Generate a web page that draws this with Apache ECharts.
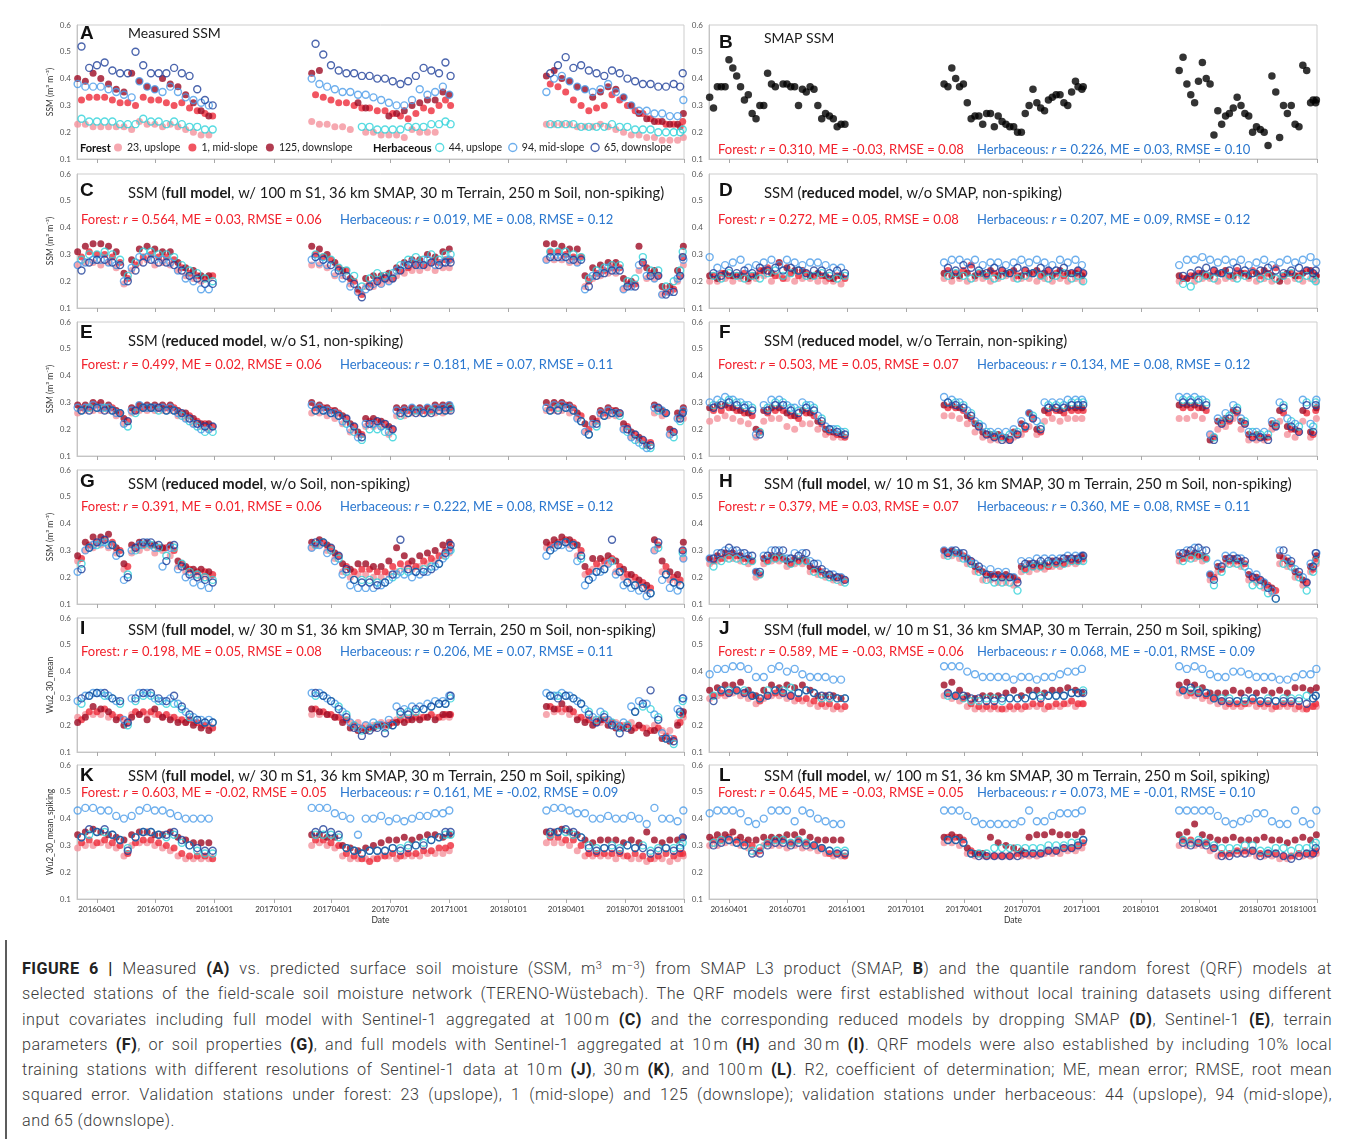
<!DOCTYPE html>
<html>
<head>
<meta charset="utf-8">
<script src="https://cdn.jsdelivr.net/npm/echarts@6/dist/echarts.min.js"></script>
<style>
html,body{margin:0;padding:0;background:#fff;width:1355px;height:1139px;overflow:hidden}
#frameTop{position:absolute;left:5px;top:7px;width:1350px;height:2px;background:#5c5c5c}
#frameLeft{position:absolute;left:5px;top:7px;width:2px;height:1132px;background:#5c5c5c}
#chart{position:absolute;left:0;top:0;width:1355px;height:940px}
#caption{position:absolute;left:22px;top:956px;width:1310px;font-family:Roboto,"Liberation Sans",sans-serif;font-weight:300;font-size:16.2px;letter-spacing:0.45px;line-height:25.3px;color:#3a3a3a}
#caption .ln{text-align:justify;text-align-last:justify;white-space:nowrap}
#caption .last{text-align:left;text-align-last:left}
#caption b{font-weight:700;color:#222}
#caption sup{font-size:0.68em;line-height:0;vertical-align:0.5em}
</style>
</head>
<body>
<div id="frameTop"></div>
<div id="frameLeft"></div>
<div id="chart"></div>
<div id="caption">
<div class="ln"><b>FIGURE 6 |</b> Measured <b>(A)</b> vs. predicted surface soil moisture (SSM, m<sup>3</sup> m<sup>−3</sup>) from SMAP L3 product (SMAP, <b>B</b>) and the quantile random forest (QRF) models at</div>
<div class="ln">selected stations of the field-scale soil moisture network (TERENO-Wüstebach). The QRF models were first established without local training datasets using different</div>
<div class="ln">input covariates including full model with Sentinel-1 aggregated at 100&#8239;m <b>(C)</b> and the corresponding reduced models by dropping SMAP <b>(D)</b>, Sentinel-1 <b>(E)</b>, terrain</div>
<div class="ln">parameters <b>(F)</b>, or soil properties <b>(G)</b>, and full models with Sentinel-1 aggregated at 10&#8239;m <b>(H)</b> and 30&#8239;m <b>(I)</b>. QRF models were also established by including 10% local</div>
<div class="ln">training stations with different resolutions of Sentinel-1 data at 10&#8239;m <b>(J)</b>, 30&#8239;m <b>(K)</b>, and 100&#8239;m <b>(L)</b>. R2, coefficient of determination; ME, mean error; RMSE, root mean</div>
<div class="ln">squared error. Validation stations under forest: 23 (upslope), 1 (mid-slope) and 125 (downslope); validation stations under herbaceous: 44 (upslope), 94 (mid-slope),</div>
<div class="ln last">and 65 (downslope).</div>
</div>
<script>
// ---------------- sampling dates (MM-DD per season) ----------------
const DATES_A16 = ['03-02','03-14','03-26','04-07','04-19','05-01','05-13','05-25','06-06','06-18','06-30','07-12','07-24','08-05','08-17','08-29','09-10','09-22'];
const DATES_B16 = ['03-08','03-20','04-01','04-13','04-25','05-07','05-19','05-31','06-12','06-24','07-06','07-18','07-30','08-11','08-23','09-04','09-16','09-28'];
const DATES_A17 = ['03-01','03-13','03-25','04-06','04-18','04-30','05-12','05-24','06-05','06-17','06-29','07-11','07-23','08-04','08-16','08-28','09-09','09-21','10-01'];
const DATES_B17 = ['03-07','03-19','03-31','04-12','04-24','05-06','05-18','05-30','06-11','06-23','07-05','07-17','07-29','08-10','08-22','09-03','09-15','09-25','10-03'];
const DATES_A18 = ['03-01','03-13','03-25','04-06','04-18','04-30','05-12','05-24','06-05','06-17','06-29','07-11','07-23','08-04','08-16','08-28','09-09','09-21','09-30'];
const DATES_B18 = ['03-07','03-19','03-31','04-12','04-24','05-06','05-18','05-30','06-11','06-23','07-05','07-17','07-29','08-10','08-22','09-03','09-15','09-25','09-29'];
const SEASON_YEARS = [2016, 2017, 2018];
const TICK_DATES = ['2016-04-01','2016-07-01','2016-10-01','2017-01-01','2017-04-01','2017-07-01','2017-10-01','2018-01-01','2018-04-01','2018-07-01','2018-10-01'];
const Y_TICKS = [10, 20, 30, 40, 50, 60]; // SSM x 100

// ---------------- values: SSM in hundredths (m3 m-3 x 100), [2016],[2017],[2018] ----------------
// A: measured
const A_F23 = [[23,23,22,22,22,22,22,21,24,23,23,22,23,22,21,20,19,19],[24,23,23,22,22,21,null,20,20,19,19,19,18,21,20,20,20,null,null],[23,23,23,23,22,22,22,23,22,21,20,19,19,18,18,17,17,17,18]];
const A_F1 = [[32,33,33,33,32,31,31,30,33,32,32,31,30,31,29,28,27,26],[34,33,32,31,31,30,29,29,28,28,27,26,25,27,29,28,30,32,30],[38,37,35,32,30,28,29,30,34,32,30,28,27,25,24,23,23,22,24]];
const A_F125 = [[40,39,42,40,38,36,35,42,39,37,36,40,38,37,34,31,28,26],[42,43,null,null,null,null,31,29,null,null,26,27,28,30,31,32,32,35,34],[41,43,40,39,37,36,33,35,37,36,33,30,27,25,24,24,23,23,27]];
const A_H44 = [[25,24,24,24,24,23,23,23,25,24,24,23,24,23,22,22,21,21],[null,null,null,null,null,null,22,22,21,21,21,21,22,22,22,23,23,24,23],[23,23,23,23,22,22,22,22,23,22,22,21,21,21,20,20,20,20,21]];
const A_H94 = [[38,37,37,37,36,35,34,33,39,37,36,35,37,35,33,32,31,30],[40,38,37,36,35,35,34,34,33,32,31,30,30,32,36,34,35,37,34],[35,40,41,39,37,36,35,36,38,35,33,30,28,28,27,27,26,26,32]];
const A_H65 = [[52,44,45,46,43,42,42,50,45,42,42,42,44,42,41,36,32,30],[53,49,45,43,42,42,41,41,40,40,39,38,39,41,44,43,42,46,41],[42,45,48,44,45,43,42,41,43,42,40,39,38,38,37,37,38,37,42]];
// B: SMAP (two sampling grids)
const SMAP_A = [[33,37,37,44,37,34,25,30,38,null,38,37,36,37,30,27,25,23],[38,44,37,31,26,23,27,26,23,22,20,30,31,28,33,34,30,39,36],[43,38,31,46,38,28,26,29,30,26,22,20,41,18,27,23,45,31,32]];
const SMAP_B = [[29,37,47,41,32,27,30,42,37,38,37,30,35,36,25,26,22,23],[37,40,38,25,26,27,22,24,22,20,27,36,29,32,34,31,35,37,37],[48,34,39,40,19,23,27,33,27,20,21,15,35,30,30,22,43,32,31]];
// C
const C_F23 = [[26,27,27,26,27,25,19,24,27,28,26,27,26,24,22,21,20,21],[26,26,25,22,22,19,16,18,18,19,20,22,23,24,24,25,24,25,25],[28,28,28,27,27,18,21,22,23,23,17,18,24,21,21,15,16,20,26]];
const C_F1 = [[29,31,30,30,29,27,21,26,29,30,29,29,28,25,23,22,21,22],[30,29,28,25,24,20,15,19,20,21,21,24,25,26,26,27,27,28,28],[31,31,30,29,29,20,23,24,25,25,19,19,27,23,22,16,17,22,29]];
const C_F125 = [[31,33,34,34,33,31,23,28,32,33,32,31,31,27,25,24,22,22],[33,32,30,27,24,21,17,21,22,22,23,25,27,28,28,30,29,31,32],[34,34,33,32,32,22,25,26,27,27,21,20,33,25,24,18,18,24,33]];
const C_H44 = [[28,30,30,31,30,28,22,27,31,31,30,30,29,26,24,23,21,20],[30,29,28,25,24,22,18,21,23,22,23,26,28,29,28,30,28,30,30],[31,31,31,30,29,21,24,25,26,26,20,21,29,24,24,18,20,24,31]];
const C_H94 = [[26,27,28,28,27,26,20,25,29,29,28,28,27,24,21,20,17,17],[28,27,26,23,21,18,16,17,19,19,20,24,26,27,26,28,26,27,28],[28,29,29,28,27,17,22,23,25,24,17,18,26,22,21,15,16,21,28]];
const C_H65 = [[24,27,28,28,27,26,20,24,27,28,27,27,26,24,22,21,19,19],[29,28,26,24,22,19,14,18,20,21,21,24,26,26,26,27,26,27,27],[29,29,29,28,28,18,22,23,24,24,18,18,27,22,22,15,16,22,29]];
// D
const D_F23 = [[20,20,21,20,21,20,21,22,20,22,21,20,21,21,20,20,20,19],[21,20,21,20,21,21,20,21,22,21,21,21,20,21,20,21,20,21,20],[20,21,20,21,21,20,21,21,22,21,20,21,20,21,20,21,20,21,20]];
const D_F1 = [[22,23,22,22,23,22,24,25,22,21,23,22,23,22,22,21,22,21],[24,23,24,26,23,22,23,24,23,22,24,23,22,24,23,22,23,24,23],[21,22,23,22,24,23,22,24,23,24,22,23,25,22,23,22,24,23,22]];
const D_F125 = [[22,21,23,22,22,21,22,24,23,27,25,24,24,22,23,22,21,22],[23,22,22,23,22,23,24,22,23,24,22,23,24,23,22,24,23,23,22],[22,21,22,23,22,23,24,22,23,22,23,24,22,20,23,22,23,24,22]];
const D_H44 = [[22,21,23,22,21,22,21,23,24,22,23,24,22,22,23,22,21,22],[22,23,22,21,23,22,21,22,23,21,22,23,22,21,22,23,21,22,20],[19,18,21,22,21,23,22,21,22,23,21,22,21,22,23,21,22,21,20]];
const D_H94 = [[29,25,26,27,28,25,26,27,28,26,28,27,26,27,27,26,25,25],[27,28,28,27,28,26,27,27,26,27,28,27,28,27,26,28,27,28,26],[26,28,28,29,28,27,28,27,28,26,27,28,26,27,28,27,28,29,27]];
const D_H65 = [[23,22,24,23,24,23,25,24,25,24,25,24,23,24,24,23,24,23],[25,24,26,25,24,23,25,24,23,25,24,23,25,24,24,25,23,24,23],[22,23,24,25,24,23,24,25,24,23,24,25,24,23,24,25,24,23,24]];
// E
const E_F23 = [[26,27,27,27,27,25,22,26,27,27,27,27,27,25,24,22,21,20],[26,26,25,24,22,19,18,21,21,21,18,25,25,26,26,26,26,26,27],[27,27,27,26,24,19,22,25,25,25,20,17,16,15,26,25,18,24,24]];
const E_F1 = [[28,28,29,28,28,26,23,27,28,28,28,28,28,26,25,23,22,21],[28,28,27,26,24,21,18,23,23,22,20,27,27,27,27,27,28,28,28],[28,29,29,28,25,20,23,26,27,26,21,18,16,15,28,26,19,25,26]];
const E_F125 = [[29,29,30,30,29,27,24,28,29,29,29,29,29,27,26,24,22,22],[30,29,28,27,25,22,19,24,24,23,21,28,28,28,28,28,29,29,29],[30,30,30,29,26,22,24,27,28,27,22,19,17,14,29,27,20,26,28]];
const E_H44 = [[27,28,28,28,27,26,21,26,28,28,27,27,27,25,23,21,19,19],[27,27,26,25,22,19,16,20,20,19,17,25,26,27,26,27,27,27,28],[27,28,28,27,23,18,21,25,26,25,19,16,14,13,27,26,17,23,26]];
const E_H94 = [[28,28,29,28,28,26,22,27,29,28,28,28,28,26,24,22,20,20],[29,28,27,26,23,20,17,22,22,21,19,27,27,28,27,28,28,28,29],[28,29,29,28,24,19,22,26,27,26,20,17,15,13,28,27,18,24,27]];
const E_H65 = [[27,27,28,27,27,26,23,27,28,28,28,27,27,26,24,22,21,21],[27,27,26,25,24,21,17,22,23,22,20,26,26,26,26,26,27,27,27],[27,27,28,27,23,18,22,25,26,26,20,18,16,14,28,26,19,24,26]];
// F
const F_F23 = [[23,24,25,24,23,22,17,23,24,24,21,20,22,22,20,18,17,17],[25,25,24,22,19,17,16,16,16,17,18,21,18,23,24,23,24,24,24],[24,24,25,24,18,20,21,24,20,16,16,16,20,23,18,17,23,17,24]];
const F_F1 = [[27,27,28,27,26,25,19,26,27,27,25,24,26,25,22,19,18,17],[28,28,27,24,21,18,17,17,16,18,20,24,19,26,27,26,27,27,27],[28,28,28,27,17,22,23,26,22,17,17,17,21,26,20,19,26,18,27]];
const F_F125 = [[28,29,29,28,27,26,20,27,28,28,26,25,27,26,23,20,19,18],[29,29,28,25,22,19,18,18,17,19,22,26,20,27,28,27,28,28,28],[29,29,29,28,16,23,24,27,23,18,18,17,22,27,21,20,27,19,28]];
const F_H44 = [[29,30,31,30,29,28,19,28,30,30,28,27,29,28,24,20,20,19],[30,30,29,26,22,19,18,17,18,19,21,25,21,29,29,29,30,30,30],[31,31,31,30,17,23,25,28,23,19,18,18,22,29,23,21,30,21,30]];
const F_H94 = [[30,31,32,31,30,29,18,29,31,31,29,28,30,29,25,21,20,19],[32,31,30,27,23,21,19,19,19,20,23,26,23,30,30,30,31,31,31],[32,32,32,31,18,24,26,29,24,19,19,19,23,30,24,22,31,22,31]];
const F_H65 = [[28,29,30,29,28,27,18,27,29,29,27,26,28,27,23,20,19,18],[30,29,28,25,21,18,17,16,16,18,21,24,20,28,28,28,29,29,29],[30,30,30,29,16,22,24,27,22,17,17,16,21,28,21,19,29,19,29]];
// G
const G_F23 = [[26,30,31,32,31,29,23,29,30,31,29,30,28,24,22,21,20,20],[31,32,30,27,22,20,21,21,20,20,21,22,23,23,24,25,26,28,29],[31,32,33,32,28,21,23,24,25,22,20,19,17,15,30,22,19,18,27]];
const G_F1 = [[27,32,33,34,33,30,24,31,32,32,31,31,30,25,23,22,22,21],[32,33,31,28,24,22,23,23,22,22,24,25,25,24,26,27,28,30,31],[32,33,34,33,30,22,25,26,27,24,21,20,18,16,32,24,20,19,30]];
const G_F125 = [[28,33,35,35,36,31,25,32,33,33,32,31,32,26,24,23,23,22],[33,34,32,29,25,23,25,25,24,24,26,31,28,26,28,29,30,32,33],[33,34,35,34,32,24,27,27,28,26,23,21,19,17,34,26,22,21,33]];
const G_H44 = [[25,31,32,33,32,29,21,30,32,32,31,28,31,25,22,21,20,19],[32,33,30,27,22,19,19,19,18,18,20,22,22,22,23,24,25,28,30],[30,32,33,32,27,19,22,23,26,22,18,17,16,14,31,21,18,17,29]];
const G_H94 = [[22,30,32,33,32,28,19,30,32,33,31,24,31,23,20,18,17,16],[31,32,29,26,21,17,16,16,16,17,19,21,21,20,21,22,24,27,30],[28,31,32,31,26,17,20,22,25,21,17,16,15,13,30,19,16,15,27]];
const G_H65 = [[23,31,33,34,32,29,20,31,33,33,32,26,32,24,21,20,19,18],[33,33,31,28,23,19,18,18,17,18,21,34,23,22,22,23,25,29,32],[30,32,33,32,28,19,22,23,34,22,18,17,16,14,33,21,18,17,30]];
// H
const H_F23 = [[25,26,27,27,26,25,20,25,26,26,24,25,25,22,21,20,19,18],[28,28,27,25,22,19,19,18,18,17,22,22,23,23,24,24,25,25,26],[26,27,27,26,19,22,25,25,24,19,18,16,14,25,24,20,17,22,25]];
const H_F1 = [[26,27,28,28,27,26,21,26,27,27,25,26,26,23,22,21,20,19],[29,29,28,26,23,21,21,20,20,19,23,24,24,24,25,25,26,26,27],[27,28,28,27,20,23,26,26,25,20,19,17,15,27,25,21,18,23,27]];
const H_F125 = [[27,28,29,29,28,27,22,27,28,28,26,27,27,24,23,21,20,20],[30,30,29,27,24,22,21,21,21,20,24,25,25,25,26,26,27,27,28],[28,29,29,28,21,24,27,27,26,21,20,18,16,28,26,22,19,24,28]];
const H_H44 = [[24,26,27,27,26,26,21,26,27,27,25,26,26,22,21,20,19,18],[28,29,27,25,22,19,18,18,18,15,23,24,24,25,25,25,26,26,26],[26,27,28,27,17,22,25,25,24,17,17,14,12,25,24,20,15,22,26]];
const H_H94 = [[27,29,30,30,29,28,22,28,30,30,27,29,29,26,25,22,21,20],[30,30,29,27,25,23,23,22,22,20,26,26,27,27,27,27,28,28,28],[29,30,31,30,21,25,28,28,27,22,21,18,15,30,27,23,20,25,29]];
const H_H65 = [[27,29,31,30,29,28,22,28,30,30,27,28,29,25,23,21,20,19],[29,30,29,26,24,21,20,20,20,18,25,25,26,26,26,27,27,27,28],[29,30,31,30,19,24,27,27,26,20,19,16,12,30,26,22,18,24,29]];
// I
const I_F23 = [[23,24,24,24,23,23,22,24,24,24,24,23,23,22,21,21,20,20],[24,24,24,23,22,21,21,20,20,21,21,22,23,23,23,23,23,23,23],[24,25,25,24,23,22,22,21,22,21,20,21,20,19,20,18,18,21,23]];
const I_F1 = [[22,25,25,26,24,23,21,25,25,25,24,24,23,22,22,21,20,19],[26,25,24,23,22,20,19,19,20,20,21,22,22,23,23,24,23,24,24],[27,26,26,25,23,22,21,22,21,20,20,19,19,18,19,16,15,21,24]];
const I_F125 = [[21,23,27,26,25,22,20,23,24,22,26,23,22,21,21,20,19,18],[26,25,24,23,21,19,18,18,19,20,20,21,21,22,22,23,22,24,24],[27,26,28,26,22,21,20,22,20,19,19,18,20,17,18,15,14,20,25]];
const I_H44 = [[28,31,32,31,30,28,20,29,31,31,29,28,28,26,23,22,21,21],[31,31,29,27,24,20,18,19,20,19,20,24,25,25,26,27,28,28,30],[31,31,31,30,28,25,22,24,21,19,20,25,27,26,23,15,13,24,29]];
const I_H94 = [[29,31,32,32,31,29,22,30,32,32,30,29,30,28,25,23,22,22],[32,32,30,28,25,21,19,20,21,20,22,27,26,27,27,28,29,29,31],[32,31,32,31,29,26,23,25,22,20,21,27,29,28,24,17,15,26,30]];
const I_H65 = [[30,31,32,32,30,29,21,30,32,32,30,29,31,27,24,22,21,21],[32,31,29,26,23,19,16,18,19,17,20,25,24,26,26,27,28,28,31],[31,30,31,30,28,24,21,23,20,17,19,25,28,33,22,15,14,25,30]];
// J
const J_F23 = [[30,31,31,32,31,30,28,30,31,31,30,29,29,28,27,27,26,26],[31,30,29,27,26,26,26,26,26,26,26,27,27,26,27,27,28,27,28],[32,31,31,30,29,28,27,27,27,28,27,27,26,27,27,26,26,27,27]];
const J_F1 = [[31,32,32,33,32,31,29,31,32,32,31,30,30,29,28,28,27,27],[32,31,30,28,27,27,27,26,27,27,27,28,28,27,28,28,29,28,28],[33,32,32,31,30,29,28,28,28,29,28,28,27,28,28,27,26,27,28]];
const J_F125 = [[33,34,35,35,36,33,31,33,35,34,35,34,35,33,31,31,31,30],[35,36,33,31,30,31,31,31,32,33,31,33,33,32,33,33,34,33,32],[35,36,35,34,32,32,32,33,32,33,32,33,32,33,32,34,34,33,34]];
const J_H44 = [[31,33,33,33,33,31,30,33,33,33,34,32,33,32,30,30,30,30],[31,31,30,29,29,30,30,29,30,30,30,31,31,31,31,31,32,32,33],[33,33,33,32,30,30,30,29,29,30,29,30,29,30,30,30,31,30,31]];
const J_H94 = [[39,41,41,42,42,41,38,38,41,42,40,41,39,38,38,38,37,37],[42,42,42,40,39,38,38,38,38,37,38,38,37,38,38,39,40,40,41],[42,41,42,41,39,38,38,40,40,39,38,38,38,37,37,38,39,39,41]];
const J_H65 = [[29,33,32,33,32,31,30,31,33,32,31,32,33,32,31,31,30,30],[32,31,31,30,30,29,29,30,30,30,30,31,30,31,31,31,32,32,32],[33,34,32,32,30,29,29,29,30,30,29,29,29,29,29,29,28,30,31]];
// K
const K_F23 = [[29,30,30,31,30,29,26,30,31,31,30,29,28,26,25,25,25,25],[30,31,30,29,26,25,25,25,25,26,26,25,26,26,26,27,27,27,28],[31,31,31,30,28,26,26,26,26,25,26,25,25,24,25,25,24,25,26]];
const K_F1 = [[31,32,31,32,31,30,27,31,32,32,31,30,29,27,26,26,26,25],[32,32,31,30,27,26,25,24,25,26,27,26,27,27,28,28,29,29,30],[33,33,32,32,30,27,27,27,27,27,26,27,26,25,26,27,26,27,27]];
const K_F125 = [[34,35,36,35,34,33,32,34,35,35,34,34,35,33,32,31,31,31],[34,34,33,33,30,29,28,29,30,31,32,32,33,32,33,34,34,33,34],[35,35,36,35,34,32,31,32,32,32,31,32,31,35,32,31,32,32,33]];
const K_H44 = [[33,34,35,35,34,32,29,33,35,35,34,33,34,31,30,28,27,27],[34,34,34,33,29,28,27,28,28,28,29,29,30,30,31,32,33,34,34],[34,35,35,34,33,30,29,29,30,29,30,29,30,28,29,29,29,30,31]];
const K_H94 = [[43,44,44,43,43,41,40,41,43,44,43,43,42,41,40,40,40,40],[44,44,44,42,41,40,34,40,40,41,39,40,39,40,41,41,42,42,43],[43,44,44,43,42,42,40,40,41,40,40,41,40,38,44,40,40,39,43]];
const K_H65 = [[33,36,35,36,34,32,28,33,35,35,34,34,35,32,30,29,28,28],[35,36,35,34,29,28,27,28,28,28,29,28,29,30,30,32,33,35,35],[35,35,36,35,33,29,28,29,29,28,30,29,29,27,28,29,28,29,33]];
// L
const L_F23 = [[30,30,31,31,30,29,27,30,30,30,29,30,29,29,28,27,26,26],[31,31,30,27,26,26,26,26,26,26,26,26,26,27,27,27,28,28,29],[30,30,30,30,28,26,26,27,27,27,26,26,26,25,25,26,26,26,27]];
const L_F1 = [[32,32,33,32,31,30,28,31,32,32,31,32,31,30,29,27,27,26],[33,33,32,28,27,26,26,26,26,27,27,27,27,28,28,29,29,30,31],[32,32,31,31,29,27,27,28,28,28,27,27,27,26,26,27,27,27,28]];
const L_F125 = [[33,34,34,35,33,32,32,33,33,33,34,34,35,33,32,32,32,32],[33,34,33,29,27,27,33,31,30,29,28,33,34,34,35,34,34,34,35],[34,35,38,34,33,32,32,33,32,32,32,33,32,32,31,32,33,32,34]];
const L_H44 = [[31,32,32,31,30,28,29,31,32,32,31,32,31,30,29,28,28,28],[32,32,31,27,27,27,29,29,29,29,29,29,29,30,30,30,31,31,32],[32,31,32,31,30,29,29,29,30,30,28,28,29,29,28,29,29,30,31]];
const L_H94 = [[42,43,43,43,42,39,38,40,43,43,43,39,43,42,40,39,38,38],[43,43,43,41,39,38,38,38,38,38,39,43,39,39,41,42,42,42,43],[43,43,43,43,43,41,39,38,39,40,42,42,39,38,38,43,39,38,43]];
const L_H65 = [[30,31,32,31,30,27,27,30,31,31,30,31,30,30,29,28,27,27],[32,32,31,27,26,26,26,26,26,26,27,27,27,28,28,29,29,30,32],[31,30,31,30,29,26,26,27,27,28,26,27,27,26,25,26,27,27,29]];

// ---------------- text ----------------
const PANEL_TITLES = {
  A:'Measured SSM', B:'SMAP SSM',
  C:'SSM ({b|full model}, w/ 100 m S1, 36 km SMAP, 30 m Terrain, 250 m Soil, non-spiking)',
  D:'SSM ({b|reduced model}, w/o SMAP, non-spiking)',
  E:'SSM ({b|reduced model}, w/o S1, non-spiking)',
  F:'SSM ({b|reduced model}, w/o Terrain, non-spiking)',
  G:'SSM ({b|reduced model}, w/o Soil, non-spiking)',
  H:'SSM ({b|full model}, w/ 10 m S1, 36 km SMAP, 30 m Terrain, 250 m Soil, non-spiking)',
  I:'SSM ({b|full model}, w/ 30 m S1, 36 km SMAP, 30 m Terrain, 250 m Soil, non-spiking)',
  J:'SSM ({b|full model}, w/ 10 m S1, 36 km SMAP, 30 m Terrain, 250 m Soil, spiking)',
  K:'SSM ({b|full model}, w/ 30 m S1, 36 km SMAP, 30 m Terrain, 250 m Soil, spiking)',
  L:'SSM ({b|full model}, w/ 100 m S1, 36 km SMAP, 30 m Terrain, 250 m Soil, spiking)'
};
const FOREST_STATS = {B:'0.310, ME = -0.03, RMSE = 0.08', C:'0.564, ME = 0.03, RMSE = 0.06', D:'0.272, ME = 0.05, RMSE = 0.08', E:'0.499, ME = 0.02, RMSE = 0.06', F:'0.503, ME = 0.05, RMSE = 0.07', G:'0.391, ME = 0.01, RMSE = 0.06', H:'0.379, ME = 0.03, RMSE = 0.07', I:'0.198, ME = 0.05, RMSE = 0.08', J:'0.589, ME = -0.03, RMSE = 0.06', K:'0.603, ME = -0.02, RMSE = 0.05', L:'0.645, ME = -0.03, RMSE = 0.05'};
const HERB_STATS = {B:'0.226, ME = 0.03, RMSE = 0.10', C:'0.019, ME = 0.08, RMSE = 0.12', D:'0.207, ME = 0.09, RMSE = 0.12', E:'0.181, ME = 0.07, RMSE = 0.11', F:'0.134, ME = 0.08, RMSE = 0.12', G:'0.222, ME = 0.08, RMSE = 0.12', H:'0.360, ME = 0.08, RMSE = 0.11', I:'0.206, ME = 0.07, RMSE = 0.11', J:'0.068, ME = -0.01, RMSE = 0.09', K:'0.161, ME = -0.02, RMSE = 0.09', L:'0.073, ME = -0.01, RMSE = 0.10'};
const Y_NAMES = {A:'SSM (m³ m⁻³)', C:'SSM (m³ m⁻³)', E:'SSM (m³ m⁻³)', G:'SSM (m³ m⁻³)', I:'Wu2_30_mean', K:'Wu2_30_mean_spiking'};

const SERIES_META = [
  {key:'F23', name:'23, upslope', color:'#F4929C', filled:true, grid:'A'},
  {key:'F1', name:'1, mid-slope', color:'#EE2A3A', filled:true, grid:'B'},
  {key:'F125', name:'125, downslope', color:'#9D0B24', filled:true, grid:'A'},
  {key:'H44', name:'44, upslope', color:'#2ED2DA', filled:false, grid:'B'},
  {key:'H94', name:'94, mid-slope', color:'#4A9BE9', filled:false, grid:'A'},
  {key:'H65', name:'65, downslope', color:'#1E3F99', filled:false, grid:'B'}
];
const PANEL_DATA = {
  A:{F23:A_F23,F1:A_F1,F125:A_F125,H44:A_H44,H94:A_H94,H65:A_H65},
  C:{F23:C_F23,F1:C_F1,F125:C_F125,H44:C_H44,H94:C_H94,H65:C_H65},
  D:{F23:D_F23,F1:D_F1,F125:D_F125,H44:D_H44,H94:D_H94,H65:D_H65},
  E:{F23:E_F23,F1:E_F1,F125:E_F125,H44:E_H44,H94:E_H94,H65:E_H65},
  F:{F23:F_F23,F1:F_F1,F125:F_F125,H44:F_H44,H94:F_H94,H65:F_H65},
  G:{F23:G_F23,F1:G_F1,F125:G_F125,H44:G_H44,H94:G_H94,H65:G_H65},
  H:{F23:H_F23,F1:H_F1,F125:H_F125,H44:H_H44,H94:H_H94,H65:H_H65},
  I:{F23:I_F23,F1:I_F1,F125:I_F125,H44:I_H44,H94:I_H94,H65:I_H65},
  J:{F23:J_F23,F1:J_F1,F125:J_F125,H44:J_H44,H94:J_H94,H65:J_H65},
  K:{F23:K_F23,F1:K_F1,F125:K_F125,H44:K_H44,H94:K_H94,H65:K_H65},
  L:{F23:L_F23,F1:L_F1,F125:L_F125,H44:L_H44,H94:L_H94,H65:L_H65}
};

// ---------------- build ----------------
const GRID_DATES = {A:[DATES_A16,DATES_A17,DATES_A18], B:[DATES_B16,DATES_B17,DATES_B18]};
const T = s => Date.UTC(+s.slice(0,4), +s.slice(5,7)-1, +s.slice(8,10));
function points(gridKey, vals){
  const out = [];
  vals.forEach((season, s) => {
    const dates = GRID_DATES[gridKey][s];
    season.forEach((v, i) => { if (v != null && dates[i]) out.push([T(SEASON_YEARS[s] + '-' + dates[i]), v]); });
  });
  return out;
}
const pad = n => (n < 10 ? '0' : '') + n;
const fmtDate = v => { const d = new Date(v); return d.getUTCFullYear() + pad(d.getUTCMonth()+1) + pad(d.getUTCDate()); };

const PANELS = ['A','B','C','D','E','F','G','H','I','J','K','L'];
const GRID_LEFT = [77, 709], GRID_W = [607, 608];
const ROW_TOP = [25, 174, 322, 470, 618, 765], ROW_H = 134;
const LETTER_X = [80, 719], TITLE_X = [128, 764], RED_X = [81, 718], BLUE_X = [340, 977];
const LETTER_Y = [34, 191, 333, 482, 629, 776], TITLE_Y = [33, 193, 341, 484, 630, 776], STATS_Y = [150, 220, 365, 507, 652, 793];
const TXT_FONT = 'Lato, "Open Sans", sans-serif';
const RED = '#F2202B', BLUE = '#2A77CF';
const TICKS = TICK_DATES.map(T);
const XMIN = T('2016-03-01'), XMAX = T('2018-10-01');

function richSet(size, color){
  const base = {fontSize:size, fontFamily:TXT_FONT, fill:color};
  return {b:Object.assign({fontWeight:'bold'}, base), i:Object.assign({fontStyle:'italic'}, base)};
}
function txt(x, y, text, size, color, weight, family){
  return {type:'text', x:x, y:y, silent:true, style:{text:text, x:0, y:0, fontSize:size, fontFamily:family||TXT_FONT, fontWeight:weight||'normal', fill:color, verticalAlign:'middle', align:'left', rich:richSet(size,color)}};
}

const grids = [], xAxes = [], yAxes = [], series = [], elements = [];
PANELS.forEach((p, k) => {
  const col = k % 2, row = Math.floor(k / 2);
  grids.push({left:GRID_LEFT[col], top:ROW_TOP[row], width:GRID_W[col], height:ROW_H, show:true, borderColor:'#cdcdcd', borderWidth:1, backgroundColor:'transparent'});
  const bottom = row === 5;
  xAxes.push({type:'value', gridIndex:k, min:XMIN, max:XMAX,
    axisLine:{show:true, onZero:false, lineStyle:{color:'#c4c4c4'}},
    axisTick:{show:true, customValues:TICKS, length:4, lineStyle:{color:'#a8a8a8'}},
    axisLabel:{show:bottom, customValues:TICKS, formatter:fmtDate, fontSize:8, color:'#333', fontFamily:TXT_FONT, margin:6, alignMaxLabel:'right'},
    splitLine:{show:false},
    name: bottom ? 'Date' : '', nameLocation:'middle', nameGap:17, nameTextStyle:{fontSize:8.5, color:'#333', fontFamily:TXT_FONT}
  });
  yAxes.push({type:'value', gridIndex:k, min:Y_TICKS[0], max:Y_TICKS[Y_TICKS.length-1], interval:10,
    axisLine:{show:true, lineStyle:{color:'#c4c4c4'}}, axisTick:{show:false}, splitLine:{show:false},
    axisLabel:{fontSize:8, color:'#555', fontFamily:TXT_FONT, margin:6, formatter:v => (v/100).toFixed(1)},
    name: Y_NAMES[p] || '', nameLocation:'middle', nameGap:22, nameRotate:90, nameTextStyle:{fontSize:8.5, color:'#333', fontFamily:TXT_FONT}
  });
  if (p === 'B') {
    series.push({type:'scatter', name:'SMAP', xAxisIndex:k, yAxisIndex:k, symbol:'circle', symbolSize:7.5, itemStyle:{color:'#000'}, silent:true,
      data: points('A', SMAP_A).concat(points('B', SMAP_B))});
  } else {
    SERIES_META.forEach(m => {
      series.push({type:'scatter', name:m.name, xAxisIndex:k, yAxisIndex:k, symbol:'circle', symbolSize:7, silent:true,
        itemStyle: m.filled ? {color:m.color} : {color:'rgba(255,255,255,0)', borderColor:m.color, borderWidth:1.4},
        data: points(m.grid, PANEL_DATA[p][m.key])});
    });
  }
  // texts
  elements.push(txt(LETTER_X[col], (p==='B'?43:LETTER_Y[row]), p, 19, '#111', 'bold', '"Liberation Sans", Arial, sans-serif'));
  let ty = TITLE_Y[row]; if (p === 'B') ty = 38;
  elements.push(txt(TITLE_X[col], ty, PANEL_TITLES[p], (p==='A'||p==='B') ? 14 : 14.8, '#1a1a1a'));
  if (FOREST_STATS[p]) {
    elements.push(txt(RED_X[col], STATS_Y[row], 'Forest: {i|r} = ' + FOREST_STATS[p], 13, RED));
    elements.push(txt(BLUE_X[col], STATS_Y[row], 'Herbaceous: {i|r} = ' + HERB_STATS[p], 13, BLUE));
  }
});
elements.push(txt(80, 148, 'Forest', 11, '#111', 'bold'));
elements.push(txt(373, 148, 'Herbaceous', 11, '#111', 'bold'));

const legendText = {fontSize:10.5, fontFamily:TXT_FONT, color:'#222'};
const option = {
  animation:false,
  backgroundColor:'#fff',
  grid:grids, xAxis:xAxes, yAxis:yAxes, series:series,
  legend:[
    {left:114, top:140, itemWidth:8, itemHeight:8, itemGap:8, icon:'circle', selectedMode:false, textStyle:legendText, padding:[2,0,2,0],
     data:SERIES_META.filter(m=>m.filled).map(m=>({name:m.name, itemStyle:{color:m.color}}))},
    {left:435, top:140, itemWidth:8, itemHeight:8, itemGap:6, icon:'circle', selectedMode:false, textStyle:legendText, padding:[2,0,2,0],
     data:SERIES_META.filter(m=>!m.filled).map(m=>({name:m.name, itemStyle:{color:'rgba(255,255,255,0)', borderColor:m.color, borderWidth:1.4}}))}
  ],
  graphic:{elements:elements}
};
const chart = echarts.init(document.getElementById('chart'), null, {renderer:'canvas'});
chart.setOption(option);
</script>
</body>
</html>
